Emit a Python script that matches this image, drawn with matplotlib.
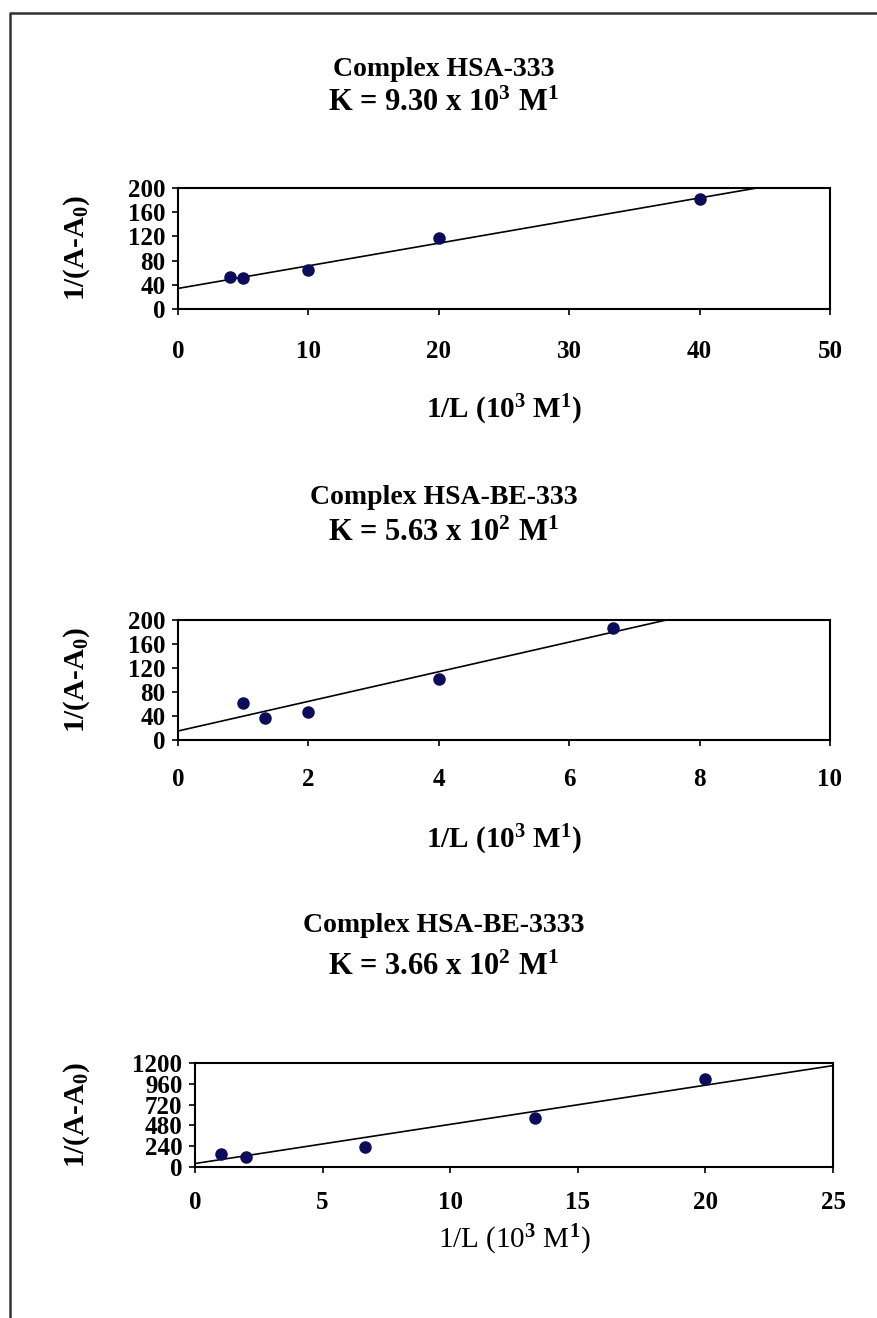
import numpy as np
import matplotlib
matplotlib.use('Agg')
import matplotlib.pyplot as plt
from matplotlib.lines import Line2D

plt.rcParams['font.family'] = ['Liberation Serif', 'DejaVu Serif']
plt.rcParams['font.weight'] = 'bold'
plt.rcParams['mathtext.fontset'] = 'custom'
plt.rcParams['mathtext.rm'] = 'Liberation Serif:bold'
plt.rcParams['mathtext.it'] = 'Liberation Serif:bold'
plt.rcParams['mathtext.bf'] = 'Liberation Serif:bold'

# complex HSA-333
x1 = [4, 5, 10, 20, 40]
y1 = [53, 52, 65, 118, 181]
fit1 = (3.74, 34)      # slope, intercept of the trendline
# complex HSA-BE-333
x2 = [1, 1.33, 2, 4, 6.67]
y2 = [62, 37, 47, 102, 187]
fit2 = (24.7, 15)
# complex HSA-BE-3333
x3 = [1, 2, 6.67, 13.33, 20]
y3 = [150, 115, 232, 560, 1020]
fit3 = (45.2, 40)

titles = ['Complex HSA-333', 'Complex HSA-BE-333', 'Complex HSA-BE-3333']
k_texts = [r'K = 9.30 x 10$^3$ M$^1$', r'K = 5.63 x 10$^2$ M$^1$', r'K = 3.66 x 10$^2$ M$^1$']
xlim_list = [50, 10, 25]
xstep_list = [10, 2, 5]
ylim_list = [200, 200, 1200]
ystep_list = [40, 40, 240]

fig = plt.figure(figsize=(8.78, 13.18), dpi=100)

# panel layout in pixels: left, right, top, bottom, title y, K y, xlabel y, tick pad
panels = [
    (178, 830, 188, 309, 70, 103, 410, 18),
    (178, 830, 620, 740, 497, 533, 840, 16),
    (195, 833, 1063, 1167, 925, 967, 1240, 13),
]
W, H = 878.0, 1318.0

data = [(x1, y1, fit1), (x2, y2, fit2), (x3, y3, fit3)]

for i, (l, r, t, b, ty, ky, xly, pad) in enumerate(panels):
    ax = fig.add_axes([l / W, 1 - b / H, (r - l) / W, (b - t) / H])
    xs, ys, (m, c) = data[i]
    xl = np.array([0, xlim_list[i]])
    ax.plot(xl, m * xl + c, color='black', lw=1.2, zorder=2)
    ax.plot(xs, ys, 'o', color='#0c0c5a', markersize=8, zorder=3)
    ax.set_xlim(0, xlim_list[i])
    ax.set_ylim(0, ylim_list[i])
    ax.set_xticks(np.arange(0, xlim_list[i] + 0.01, xstep_list[i]))
    ax.set_yticks(np.arange(0, ylim_list[i] + 1, ystep_list[i]))
    for s in ax.spines.values():
        s.set_linewidth(1.5)
    ax.tick_params(axis='x', direction='out', length=4, width=1.2, pad=pad, labelsize=18)
    ax.tick_params(axis='y', direction='out', length=4, width=1.2, pad=5, labelsize=18)
    ax.set_ylabel(r'1/(A-A$_0$)', fontsize=21, fontweight='bold')
    ax.yaxis.set_label_coords(-(l - 92) / (r - l), 0.5)
    cx = (l + r) / 2 / W
    fig.text(cx, 1 - xly / H, r'1/L (10$^3$ M$^1$)', ha='center', va='center', fontsize=21,
             fontweight='normal' if i == 2 else 'bold')
    fig.text(0.505, 1 - ty / H, titles[i], ha='center', va='center', fontsize=20, fontweight='bold')
    fig.text(0.505, 1 - ky / H, k_texts[i], ha='center', va='center', fontsize=22)

# frame of the original figure (left and top edges)
fig.add_artist(Line2D([10 / W, 10 / W, 1], [0, 1 - 13 / H, 1 - 13 / H], color='#333333', lw=1.8))

fig.savefig('out.png', dpi=100, facecolor='white')
